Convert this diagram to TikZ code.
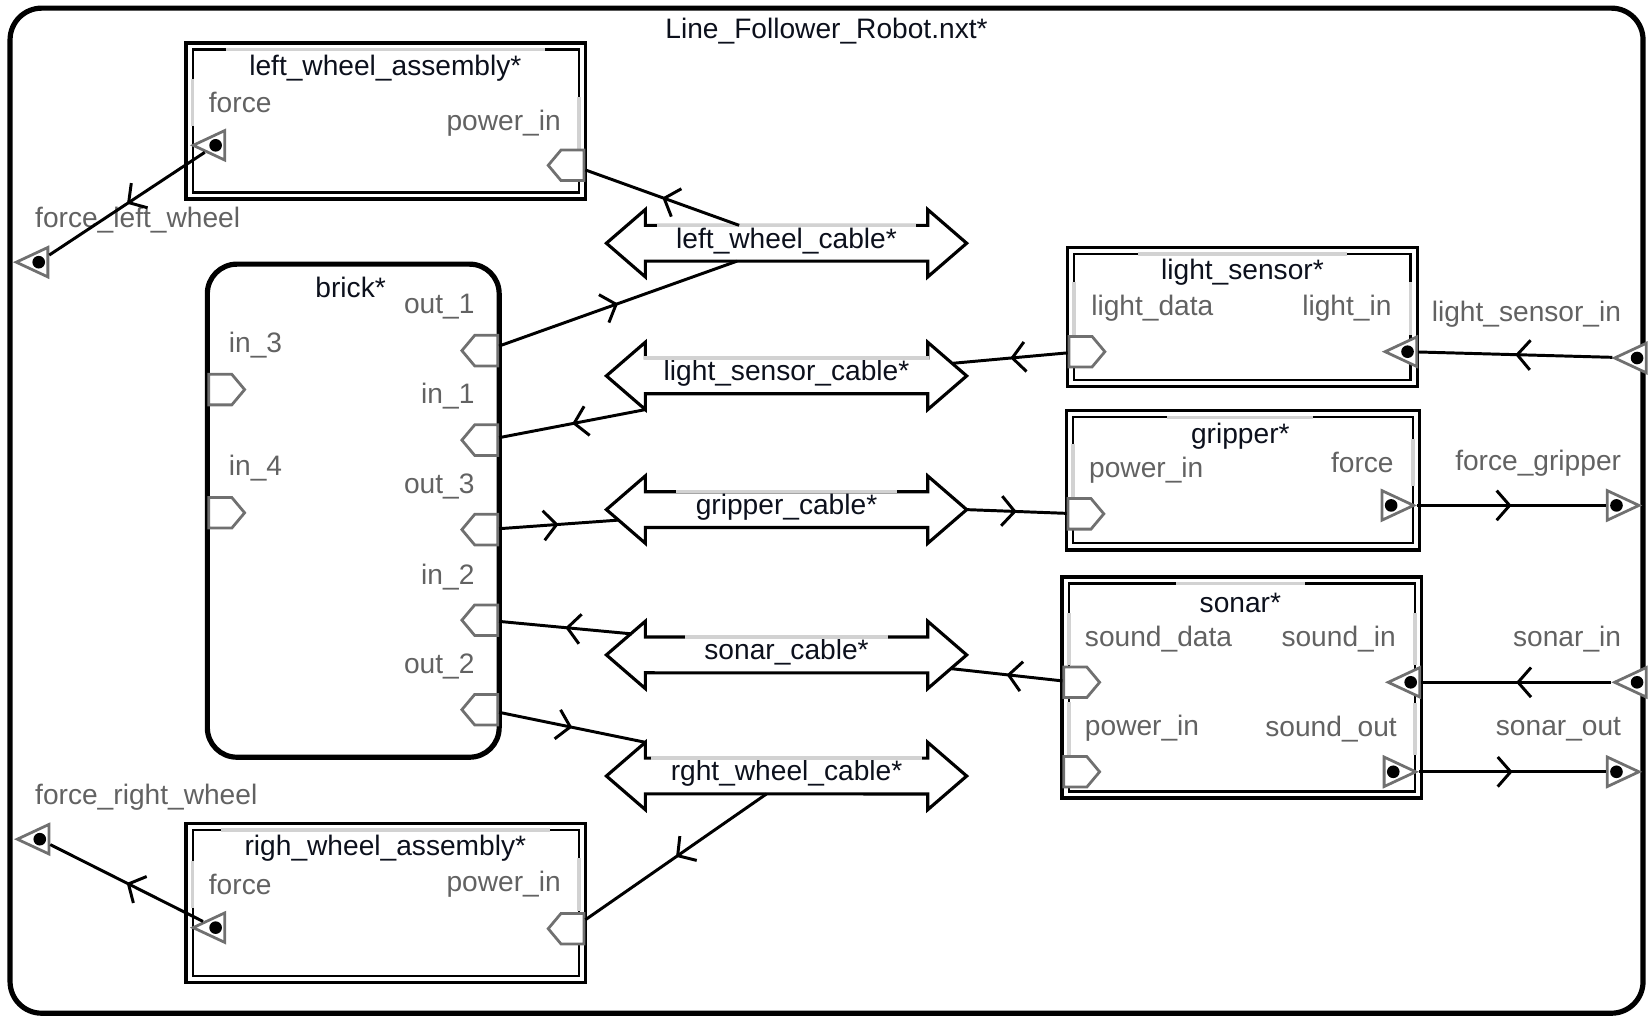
\documentclass[tikz,border=0pt]{standalone}
\usepackage{fontspec}
\setmainfont{Liberation Sans}
\usepackage{tikz}
\usepackage{xcolor}
\usetikzlibrary{arrows.meta,calc,decorations.markings,positioning,shapes.geometric,shapes.symbols}
\definecolor{portgray}{HTML}{707070}
\definecolor{labelgray}{HTML}{626262}
\definecolor{gapgray}{HTML}{D2D2D2}
\definecolor{namecol}{HTML}{0C101C}
\tikzset{%
  outerframe/.style={draw,line width=1.4pt,rounded corners=.3cm},
  block/.style={draw,line width=1pt},
  brickbox/.style={draw,line width=1.4pt,rounded corners=.28cm},
  innerline/.style={line width=.7pt},
  gapline/.style={gapgray,line width=.9pt},
  cablebody/.style={inner sep=0,outer sep=0,minimum width=2.68cm,minimum height=.34cm},
  cable/.style={line width=.85pt},
  blockname/.style={text=namecol,font=\fontsize{7.6}{9}\selectfont},
  portname/.style={text=labelgray,font=\fontsize{7.6}{9}\selectfont},
  dotmark/.style={circle,fill=black,inner sep=0,outer sep=0,minimum size=.12cm,anchor=center},
  pinl/.style={signal,signal to=west,signal pointer angle=100,draw=portgray,fill=white,line width=.75pt,minimum width=.34cm,minimum height=.29cm,inner sep=0,anchor=east},
  pinr/.style={signal,signal to=east,signal pointer angle=100,draw=portgray,fill=white,line width=.75pt,minimum width=.34cm,minimum height=.29cm,inner sep=0,anchor=west},
  ftri/.style={isosceles triangle,isosceles triangle stretches,minimum width=.28cm,minimum height=.3cm,inner sep=0,draw=portgray,fill=white,line width=.75pt,anchor=apex,label distance=0pt},
  fin/.style={ftri,shape border rotate=180,label={[dotmark,xshift=-.1cm]0:{}}},
  fout/.style={ftri,label={[dotmark,xshift=.1cm]180:{}}},
  conn/.style={line width=.8pt,decoration={markings,mark=at position .5 with {\arrow{Straight Barb[length=3.5pt,width=8pt,line width=.8pt]}}},postaction={decorate}},
}

\begin{document}
\begin{tikzpicture}[x=0.01cm,y=-0.01cm]
  \useasboundingbox (0,0) rectangle (1568,966);
  \node[outerframe,minimum width=15.5cm,minimum height=9.54cm] (robot) at (785,485) {};
  \node[blockname] (robot-t) at (785,30) {Line\_Follower\_Robot.nxt*};

  \node[block,minimum width=3.79cm,minimum height=1.48cm] (lwa) at (366.5,115) {};
  \node[block,minimum width=3.79cm,minimum height=1.51cm] (rwa) at (366.5,857.5) {};
  \node[brickbox,minimum width=2.77cm,minimum height=4.68cm] (brick) at (335.5,485) {};
  \node[block,minimum width=3.32cm,minimum height=1.32cm] (ls) at (1180,301) {};
  \node[block,minimum width=3.35cm,minimum height=1.32cm] (gr) at (1180.5,456) {};
  \node[block,minimum width=3.41cm,minimum height=2.10cm] (so) at (1179.5,653) {};
  \foreach \b in {lwa,rwa,ls,gr,so}
    \draw[innerline] ([shift={(8,8)}]\b.north west) rectangle ([shift={(-8,-8)}]\b.south east);

  \node[blockname] (lwa-t) at (366,65) {left\_wheel\_assembly*};
  \node[blockname] (rwa-t) at (366,806) {righ\_wheel\_assembly*};
  \node[blockname] (brick-t) at (333,273) {brick*};
  \node[blockname] (ls-t) at (1180,259) {light\_sensor*};
  \node[blockname] (gr-t) at (1178,414) {gripper*};
  \node[blockname] (so-t) at (1178,573) {sonar*};

  \node[portname,anchor=west] (lwa-lf) at (186,97) {force};
  \node[portname,anchor=east] (lwa-lp) at (545,117) {power\_in};
  \node[portname,anchor=west] (rwa-lf) at (186,840) {force};
  \node[portname,anchor=east] (rwa-lp) at (545,840) {power\_in};
  \node[portname,anchor=west] (br-li3) at (205,328) {in\_3};
  \node[portname,anchor=west] (br-li4) at (205,445) {in\_4};
  \node[portname,anchor=east] (br-lo1) at (463,291) {out\_1};
  \node[portname,anchor=east] (br-li1) at (463,376) {in\_1};
  \node[portname,anchor=east] (br-lo3) at (463,462) {out\_3};
  \node[portname,anchor=east] (br-li2) at (463,548) {in\_2};
  \node[portname,anchor=east] (br-lo2) at (463,633) {out\_2};
  \node[portname,anchor=west] (ls-ld) at (1024,293) {light\_data};
  \node[portname,anchor=east] (ls-ll) at (1334,293) {light\_in};
  \node[portname,anchor=west] (gr-lp) at (1022,447) {power\_in};
  \node[portname,anchor=east] (gr-lf) at (1336,439) {force};
  \node[portname,anchor=west] (so-ld) at (1018,607) {sound\_data};
  \node[portname,anchor=east] (so-lsi) at (1338,607) {sound\_in};
  \node[portname,anchor=west] (so-lp) at (1018,692) {power\_in};
  \node[portname,anchor=east] (so-lso) at (1339,692) {sound\_out};
  \node[portname,anchor=west] (flw-l) at (21,209) {force\_left\_wheel};
  \node[portname,anchor=west] (frw-l) at (21,757) {force\_right\_wheel};
  \node[portname,anchor=east] (lsi-l) at (1552,298) {light\_sensor\_in};
  \node[portname,anchor=east] (fg-l) at (1552,440) {force\_gripper};
  \node[portname,anchor=east] (soi-l) at (1552,607) {sonar\_in};
  \node[portname,anchor=east] (soo-l) at (1552,693) {sonar\_out};

  \foreach \b in {lwa,rwa,ls,gr,so}
    \draw[gapline] ([shift={(-10,8)}]\b-t.west |- \b.north) -- ([shift={(10,8)}]\b-t.east |- \b.north);
  \foreach \l/\b/\s/\d in {lwa-lf/lwa/west/8,lwa-lp/lwa/east/-8,rwa-lf/rwa/west/8,rwa-lp/rwa/east/-8,ls-ld/ls/west/8,ls-ll/ls/east/-8,gr-lp/gr/west/8,gr-lf/gr/east/-8,so-ld/so/west/8,so-lsi/so/east/-8,so-lp/so/west/8,so-lso/so/east/-8}
    \draw[gapline] ([shift={(\d,0)}]\l.north -| \b.\s) -- ([shift={(\d,0)}]\l.south -| \b.\s);

  \foreach \n/\y/\t in {lwc/231/left\_wheel\_cable*,lsc/357/light\_sensor\_cable*,grc/484/gripper\_cable*,soc/622/sonar\_cable*,rwc/737/rght\_wheel\_cable*}{
    \node[cablebody] (\n) at (747,\y) {};
    \draw[cable] (\n.north west) -- ++(0,-15) -- ++(-37,32) -- ++(37,32) -- ++(0,-15) -- (\n.south east) -- ++(0,15) -- ++(37,-32) -- ++(-37,-32) -- ++(0,15) -- cycle;
    \node[blockname] (\n-t) at ([yshift=-.145cm]\n.north) {\t};
    \draw[gapline] ([xshift=-.06cm]\n-t.west |- \n.north) -- ([xshift=.06cm]\n-t.east |- \n.north);
  }

  \node[fin] (lwa-f) at (180,138) {};
  \node[pinl] (lwa-p) at (556,157) {};
  \node[fin] (rwa-f) at (180,881) {};
  \node[pinl] (rwa-p) at (556,882) {};
  \node[pinl] (br-o1) at (474,333) {};
  \node[pinl] (br-i1) at (474,418) {};
  \node[pinl] (br-o3) at (474,503) {};
  \node[pinl] (br-i2) at (474,589) {};
  \node[pinl] (br-o2) at (474,674) {};
  \node[pinr] (br-i3) at (197,370) {};
  \node[pinr] (br-i4) at (197,487) {};
  \node[pinr] (ls-d) at (1014,334) {};
  \node[fin] (ls-li) at (1312,334) {};
  \node[pinr] (gr-p) at (1013,488) {};
  \node[fout] (gr-f) at (1346,480) {};
  \node[pinr] (so-d) at (1009,648) {};
  \node[pinr] (so-p) at (1009,733) {};
  \node[fin] (so-si) at (1315,648) {};
  \node[fout] (so-so) at (1348,733) {};
  \node[fin] (flw) at (12,249) {};
  \node[fin] (frw) at (13,797) {};
  \node[fin] (lsi) at (1530,340) {};
  \node[fout] (fg) at (1560,480) {};
  \node[fin] (soi) at (1530,648) {};
  \node[fout] (soo) at (1560,733) {};

  \draw[conn] ([xshift=-.45cm]lwc.north) -- (lwa-p);
  \draw[conn] (br-o1) -- ([xshift=-.47cm]lwc.south);
  \draw[conn] (ls-d) -- ([shift={(24,-12)}]lsc.east);
  \draw[conn] ([shift={(0,15)}]lsc.south west) -- (br-i1);
  \draw[conn] (br-o3) -- ([shift={(-26,10)}]grc.west);
  \draw[conn] ([xshift=.37cm]grc.east) -- (gr-p);
  \draw[conn] ([shift={(-13,-20)}]soc.west) -- (br-i2);
  \draw[conn] (so-d) -- ([shift={(22,13)}]soc.east);
  \draw[conn] (br-o2) -- ([shift={(0,-15)}]rwc.north west);
  \draw[conn] ([xshift=-.19cm]rwc.south) -- (rwa-p);
  \draw[conn] (lwa-f) -- (flw);
  \draw[conn] (rwa-f) -- (frw);
  \draw[conn] (lsi) -- (ls-li);
  \draw[conn] (gr-f) -- (fg);
  \draw[conn] (soi) -- (so-si);
  \draw[conn] (so-so) -- (soo);
\end{tikzpicture}
\end{document}
